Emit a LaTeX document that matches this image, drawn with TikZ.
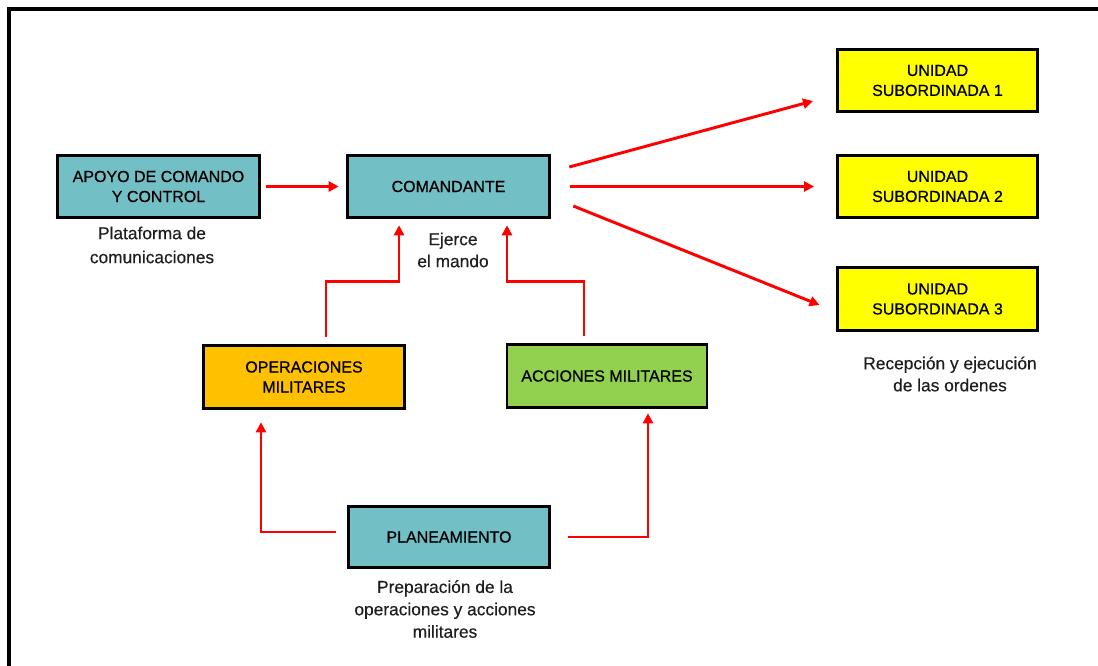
\documentclass[tikz,border=0pt]{standalone}
\usepackage{fontspec}
\setmainfont{Liberation Sans}
\newfontfamily\boxfont[FakeBold=0.7]{Liberation Sans}
\newfontfamily\capfont[FakeBold=0.4]{Liberation Sans}
\usetikzlibrary{arrows.meta}
\definecolor{tealbox}{RGB}{114,191,197}
\definecolor{orangebox}{RGB}{255,192,0}
\definecolor{greenbox}{RGB}{146,208,80}
\definecolor{yellowbox}{RGB}{255,255,0}
\definecolor{redline}{RGB}{255,0,0}
\definecolor{captxt}{RGB}{30,30,30}
\tikzset{
  box/.style={draw=black, line width=2.2pt, rectangle, align=center, inner sep=0pt,
    font=\boxfont\fontsize{12}{15}\selectfont, text=black},
  caption/.style={align=center, inner sep=0pt, text=captxt},
  arr/.style={draw=redline, line width=2.2pt, -{Triangle[length=7.5pt,width=7.5pt]}}
}
\begin{document}
\begin{tikzpicture}[x=0.75pt,y=-0.75pt]
\useasboundingbox (0,0) rectangle (1098,666);
\draw[line width=3pt] (9,666) -- (9,9) -- (1098,9);

% boxes
\node[box, fill=tealbox, minimum width=151pt, minimum height=47pt] (apoyo) at (158.5,186.5) {APOYO DE COMANDO\\Y CONTROL};
\node[box, fill=tealbox, minimum width=152pt, minimum height=47pt] (coman) at (448.5,186.5) {COMANDANTE};
\node[box, fill=yellowbox, minimum width=150pt, minimum height=46pt] (u1) at (937.5,80.5) {UNIDAD\\SUBORDINADA 1};
\node[box, fill=yellowbox, minimum width=150pt, minimum height=46pt] (u2) at (937.5,186.5) {UNIDAD\\SUBORDINADA 2};
\node[box, fill=yellowbox, minimum width=150pt, minimum height=47pt] (u3) at (937.5,299) {UNIDAD\\SUBORDINADA 3};
\node[box, fill=orangebox, minimum width=151pt, minimum height=47pt] (oper) at (304,377) {OPERACIONES\\MILITARES};
\node[box, fill=greenbox, minimum width=150pt, minimum height=47pt] (acc) at (607,376) {ACCIONES MILITARES};
\node[box, fill=tealbox, minimum width=151pt, minimum height=46pt] (plan) at (449,537) {PLANEAMIENTO};

% captions
\node[caption, font=\capfont\fontsize{13}{18}\selectfont] (capA) at (152,245) {Plataforma de\\comunicaciones};
\node[caption, font=\capfont\fontsize{13}{16.5}\selectfont] (capC) at (453,250) {Ejerce\\el mando};
\node[caption, font=\capfont\fontsize{13}{16.5}\selectfont] (capU) at (950,374) {Recepción y ejecución\\de las ordenes};
\node[caption, font=\capfont\fontsize{13}{16.8}\selectfont] (capP) at (445,609) {Preparación de la\\operaciones y acciones\\militares};

% connectors
\draw[arr] ([shift={(5,0)}]apoyo.east) -- ([shift={(-7,0)}]coman.west);

\draw[arr] ([shift={(18,-19.5)}]coman.east) -- ([shift={(-23,20.5)}]u1.west);
\draw[arr] ([shift={(19,0)}]coman.east) -- ([shift={(-22,0)}]u2.west);
\draw[arr] ([shift={(22,19.5)}]coman.east) -- ([shift={(-16.5,6)}]u3.west);

\coordinate (tipL) at ([shift={(-49.5,6)}]coman.south);
\coordinate (tipR) at ([shift={(58.5,6)}]coman.south);
\coordinate (midL) at ([shift={(0,56)}]tipL);
\coordinate (midR) at ([shift={(0,56)}]tipR);
\draw[arr] ([shift={(22,-7)}]oper.north) |- (midL) -- (tipL);
\draw[arr] ([shift={(-23,-7.5)}]acc.north) |- (midR) -- (tipR);

\draw[arr] ([shift={(-11,-5)}]plan.west) -| ([shift={(-43,12.5)}]oper.south);
\draw[arr] ([shift={(17,0)}]plan.east) -| ([shift={(41,4.5)}]acc.south);
\end{tikzpicture}
\end{document}
